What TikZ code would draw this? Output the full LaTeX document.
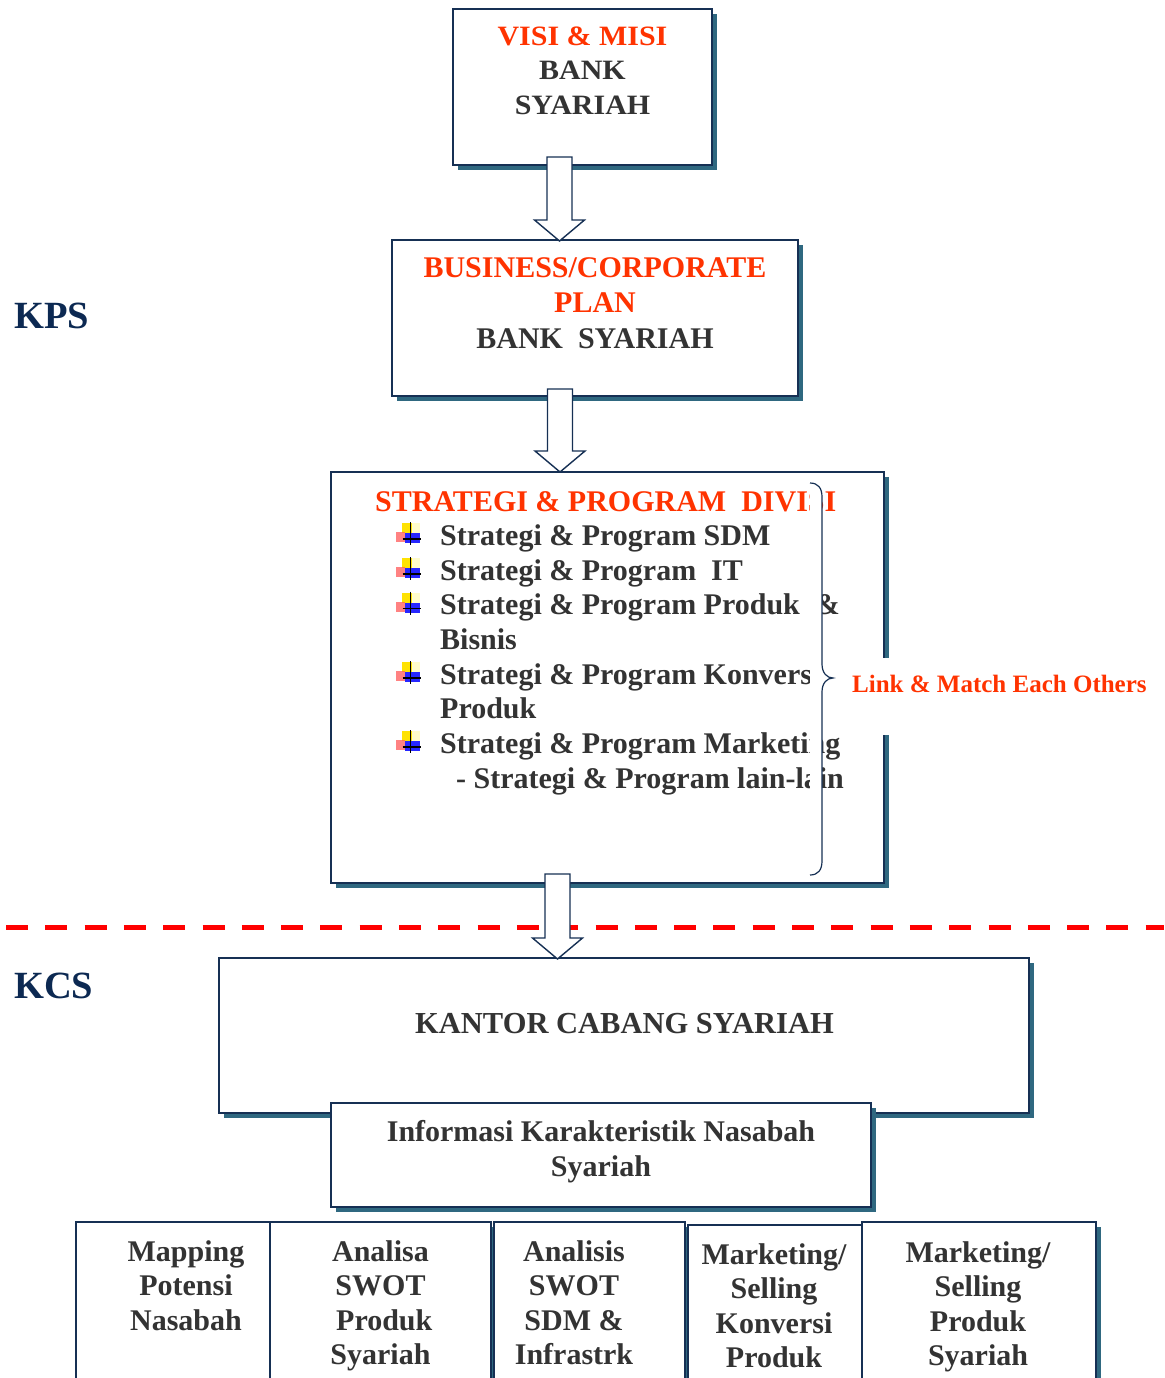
\documentclass[tikz,border=0pt]{standalone}
\usepackage{fontspec}
\setmainfont{Liberation Serif}
\newfontfamily\widerserif[FakeStretch=1.07]{Liberation Serif}
\usetikzlibrary{shadows,calc}

\definecolor{navy}{RGB}{22,48,84}
\definecolor{shade}{RGB}{47,104,128}
\definecolor{hot}{RGB}{255,51,0}
\definecolor{ink}{RGB}{51,51,51}
\definecolor{deepblue}{RGB}{12,41,82}
\definecolor{dashred}{RGB}{255,0,0}

% multi-line text nodes are placed by the baseline of their last line
\tikzset{
  card/.style={rectangle, draw=navy, line width=1.6pt, fill=white, inner sep=0pt,
    drop shadow={shadow xshift=5pt, shadow yshift=-5pt, fill=shade, opacity=1}},
  txt/.style={inner sep=0pt, text=ink, align=center, anchor=base,
    font=\bfseries\fontsize{30}{34.5}\selectfont},
  item/.style={inner sep=0pt, text=ink, anchor=base west,
    font=\bfseries\fontsize{30}{34.5}\selectfont},
  side/.style={inner sep=0pt, text=deepblue, anchor=base west,
    font=\bfseries\fontsize{38.5}{40}\selectfont},
  arrowblk/.style={draw=navy, fill=white, line width=1.4pt, line join=miter},
  bulletmark/.pic={
    \fill[yellow!85!orange] (-9,-16) rectangle (1,-6);
    \fill[yellow!20] (1,-16) rectangle (9,-6);
    \fill[red!65, opacity=.75] (-15,-7) rectangle (-6,3);
    \fill[blue, opacity=.85] (-6,-6) rectangle (9,4);
    \draw[black, line width=1.3pt] (0,-17) -- (0,6) (-8,0) -- (10,0);
  }
}

% block arrow pointing down, from a shaft-top coordinate to a tip coordinate
\newcommand\downarrowblock[2]{%
  \draw[arrowblk] ($(#1)+(-12.5,0)$) -- ($(#1)+(12.5,0)$) -- ($(#2)+(12.5,-21)$)
    -- ($(#2)+(25,-21)$) -- (#2) -- ($(#2)+(-25,-21)$) -- ($(#2)+(-12.5,-21)$) -- cycle;}

% right brace beside the division programmes
\newcommand\bracecurve{(810,483) .. controls (818,483) and (822,488) .. (822,497)
  -- (822,664) .. controls (822,673) and (827,678) .. (833,678)
  .. controls (827,678) and (822,683) .. (822,692)
  -- (822,861) .. controls (822,870) and (818,875) .. (810,875)}

\begin{document}
\begin{tikzpicture}[x=1pt, y=-1pt]
\useasboundingbox (0,0) rectangle (1164,1378);
\clip (0,0) rectangle (1164,1378);

% side labels
\node[side] (kps) at (14,328) {KPS};
\node[side] (kcs) at (14,998) {KCS};

% vision & mission
\node[card, minimum width=259, minimum height=156] (visi) at (582.5,87) {};
\node[txt, font=\widerserif\bfseries\fontsize{28}{35}\selectfont] (visitxt) at (582.5,115)
  {\textcolor{hot}{VISI \& MISI}\\BANK\\SYARIAH};

% business plan
\node[card, minimum width=406, minimum height=156] (plan) at (595,318) {};
\node[txt, font=\bfseries\fontsize{30}{35.5}\selectfont] (plantxt) at (595,348)
  {\textcolor{hot}{BUSINESS/CORPORATE}\\\textcolor{hot}{PLAN}\\BANK\ \ SYARIAH};

% division strategy
\node[card, minimum width=553, minimum height=411] (strat) at (607.5,677.5) {};
\node[item, text=hot] (strattitle) at (375,511) {STRATEGI \& PROGRAM\ \ DIVISI};
\node[item] (s1) at (440,545) {Strategi \& Program SDM};
\node[item] (s2) at (440,580) {Strategi \& Program\ \ IT};
\node[item] (s3) at (440,614.5) {Strategi \& Program Produk\ \ \&};
\node[item] (s3b) at (440,649) {Bisnis};
\node[item] (s4) at (440,684) {Strategi \& Program Konversi};
\node[item] (s4b) at (440,718.5) {Produk};
\node[item] (s5) at (440,753) {Strategi \& Program Marketing};
\node[item] (s6) at (456,788) {- Strategi \& Program lain-lain};
\foreach \yy in {545,580,614.5,684,753}
  \pic at (410.7,\yy-6) {bulletmark};

% brace and its note
\fill[white] \bracecurve -- cycle;
\draw[navy, line width=1.2pt] \bracecurve;
\fill[white] (842,658) rectangle (1152,735);
\node[item, text=hot, font=\bfseries\fontsize{25}{30}\selectfont] (link) at (852,692)
  {Link \& Match Each Others};

% arrows between the head office boxes
\coordinate (a1s) at (559.5,157);
\coordinate (a1t) at (559.5,241);
\downarrowblock{a1s}{a1t}
\coordinate (a2s) at (560,389);
\coordinate (a2t) at (560,472);
\downarrowblock{a2s}{a2t}

% boundary between head office and branch
\draw[dashred, line width=5pt, dash pattern=on 22pt off 17.3pt] (6,927) -- (1164,927);

% branch office
\node[card, minimum width=810, minimum height=155] (kantor) at (624,1035.5) {};
\node[txt, font=\bfseries\fontsize{30.5}{35}\selectfont] (kantortxt) at (624.5,1033) {KANTOR CABANG SYARIAH};

\coordinate (a3s) at (557.5,874);
\coordinate (a3t) at (557.5,959);
\downarrowblock{a3s}{a3t}

\node[card, minimum width=540, minimum height=104] (info) at (601,1155) {};
\node[txt, font=\bfseries\fontsize{30}{35}\selectfont] (infotxt) at (601,1176)
  {Informasi Karakteristik Nasabah\\Syariah};

% activity boxes
\node[card, minimum width=194, minimum height=178] (ba) at (173,1311) {};
\node[card, minimum width=221, minimum height=178] (bb) at (380.5,1311) {};
\node[card, minimum width=191, minimum height=178] (bc) at (589.5,1311) {};
\node[card, minimum width=174, minimum height=175] (bd) at (775,1312.5) {};
\node[card, minimum width=234, minimum height=178] (be) at (979,1311) {};

\node[txt] (tatxt) at (186,1330) {Mapping\\Potensi\\Nasabah};
\node[txt] (tbtxt) at (380.5,1364.5) {Analisa\\SWOT\\~Produk\\Syariah};
\node[txt] (tctxt) at (574,1364.5) {Analisis\\SWOT\\SDM \&\\Infrastrk};
\node[txt] (tdtxt) at (774,1367.5) {Marketing/\\Selling\\Konversi\\Produk};
\node[txt] (tetxt) at (978,1365.5) {Marketing/\\Selling\\Produk\\Syariah};
\end{tikzpicture}
\end{document}
